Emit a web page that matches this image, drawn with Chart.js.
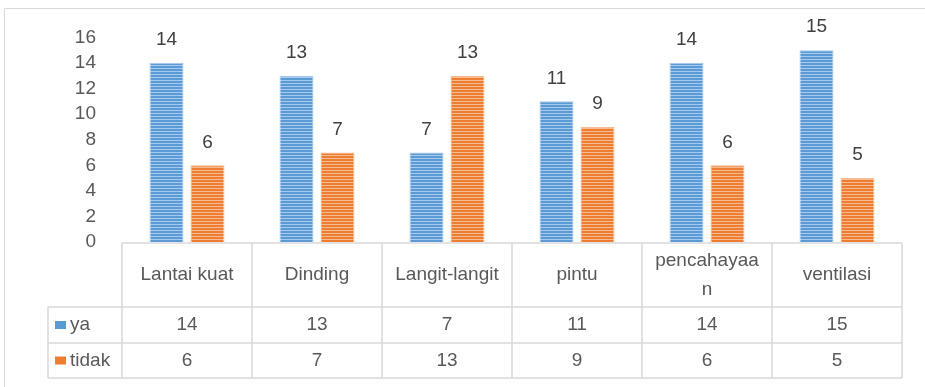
<!DOCTYPE html>
<html>
<head>
<meta charset="utf-8">
<script src="https://cdn.jsdelivr.net/npm/chart.js@4.4.1/dist/chart.umd.min.js"></script>
<style>
  html, body { margin: 0; padding: 0; background: #fff; }
  canvas { display: block; }
</style>
</head>
<body>
<canvas id="rumahChart" width="925" height="387"></canvas>
<script>
const categories = ['Lantai kuat', 'Dinding', 'Langit-langit', 'pintu', ['pencahayaa', 'n'], 'ventilasi'];
const yaValues = [14, 13, 7, 11, 14, 15];
const tidakValues = [6, 7, 13, 9, 6, 5];
const yTicks = [0, 2, 4, 6, 8, 10, 12, 14, 16];

const FONT = '"Liberation Sans", Arial, sans-serif';
const TEXT = '#595959';
const LINE = '#d9d9d9';

// horizontal stripe fill for the bars
function stripes(base, light) {
    const c = document.createElement('canvas');
    c.width = 4;
    c.height = 3;
    const g = c.getContext('2d');
    g.fillStyle = base;
    g.fillRect(0, 0, 4, 3);
    g.fillStyle = light;
    g.fillRect(0, 2, 4, 1);
    return g.createPattern(c, 'repeat');
}

const series = [
    { label: 'ya', data: yaValues, color: '#5b9bd5', light: '#a9caec' },
    { label: 'tidak', data: tidakValues, color: '#ed7d31', light: '#f7bb92' }
];

// value above each bar
const valueLabels = {
    id: 'valueLabels',
    afterDatasetsDraw(chart) {
        const ctx = chart.ctx;
        ctx.save();
        ctx.font = '19px ' + FONT;
        ctx.fillStyle = '#404040';
        ctx.textAlign = 'center';
        ctx.textBaseline = 'middle';
        chart.data.datasets.forEach((ds, i) => {
            chart.getDatasetMeta(i).data.forEach((bar, j) => {
                ctx.fillText(String(ds.data[j]), bar.x, bar.y - 23);
            });
        });
        ctx.restore();
    }
};

// frame plus data table underneath the plot
const dataTable = {
    id: 'dataTable',
    afterDraw(chart) {
        const ctx = chart.ctx;
        const area = chart.chartArea;
        const n = chart.data.labels.length;
        const colW = (area.right - area.left) / n;
        const top = area.bottom + 1;
        const rows = [top, 307, 343, 378];
        const legendLeft = 48;

        ctx.save();
        ctx.strokeStyle = LINE;
        ctx.lineWidth = 1;

        // outer frame (top and left)
        ctx.beginPath();
        ctx.moveTo(4.5, 387);
        ctx.lineTo(4.5, 8.5);
        ctx.lineTo(925, 8.5);
        ctx.stroke();

        ctx.lineWidth = 1.5;
        ctx.beginPath();
        ctx.moveTo(area.left, rows[0]);
        ctx.lineTo(area.right, rows[0]);
        for (let r = 1; r < rows.length; r++) {
            ctx.moveTo(legendLeft, rows[r]);
            ctx.lineTo(area.right, rows[r]);
        }
        for (let i = 0; i <= n; i++) {
            const x = area.left + i * colW;
            ctx.moveTo(x, rows[0]);
            ctx.lineTo(x, rows[3]);
        }
        ctx.moveTo(legendLeft, rows[1]);
        ctx.lineTo(legendLeft, rows[3]);
        ctx.stroke();

        ctx.font = '19px ' + FONT;
        ctx.fillStyle = TEXT;
        ctx.textAlign = 'center';
        ctx.textBaseline = 'middle';

        // category row
        chart.data.labels.forEach((lab, i) => {
            const cx = chart.scales.x.getPixelForValue(i);
            const lines = Array.isArray(lab) ? lab : [lab];
            const mid = (rows[0] + rows[1]) / 2;
            const lh = 29;
            lines.forEach((t, k) => {
                ctx.fillText(t, cx, mid + (k - (lines.length - 1) / 2) * lh);
            });
        });

        // value rows with legend keys
        chart.data.datasets.forEach((ds, r) => {
            const mid = (rows[r + 1] + rows[r + 2]) / 2;
            ctx.fillStyle = series[r].color;
            ctx.fillRect(55, mid - 4, 11, 8);
            ctx.fillStyle = TEXT;
            ctx.textAlign = 'left';
            ctx.fillText(ds.label, 70, mid);
            ctx.textAlign = 'center';
            ds.data.forEach((v, i) => {
                ctx.fillText(String(v), chart.scales.x.getPixelForValue(i), mid);
            });
        });
        ctx.restore();
    }
};

const ctx = document.getElementById('rumahChart').getContext('2d');

new Chart(ctx, {
    type: 'bar',
    data: {
        labels: categories,
        datasets: series.map(s => ({
            label: s.label,
            data: s.data,
            backgroundColor: stripes(s.color, s.light),
            borderColor: s.light,
            borderWidth: 1,
            categoryPercentage: 0.63,
            barPercentage: 0.83
        }))
    },
    options: {
        responsive: false,
        animation: false,
        layout: {
            padding: { top: 35, right: 23, bottom: 145, left: 0 }
        },
        scales: {
            x: {
                display: false
            },
            y: {
                min: 0,
                max: yTicks[yTicks.length - 1],
                afterFit: scale => { scale.width = 122; },
                afterBuildTicks: scale => {
                    scale.ticks = yTicks.map(v => ({ value: v }));
                },
                grid: { display: false, drawTicks: false },
                border: { display: false },
                ticks: {
                    padding: 26,
                    color: TEXT,
                    font: { family: FONT, size: 19 }
                }
            }
        },
        plugins: {
            legend: { display: false },
            tooltip: { enabled: false }
        }
    },
    plugins: [valueLabels, dataTable]
});
</script>
</body>
</html>
